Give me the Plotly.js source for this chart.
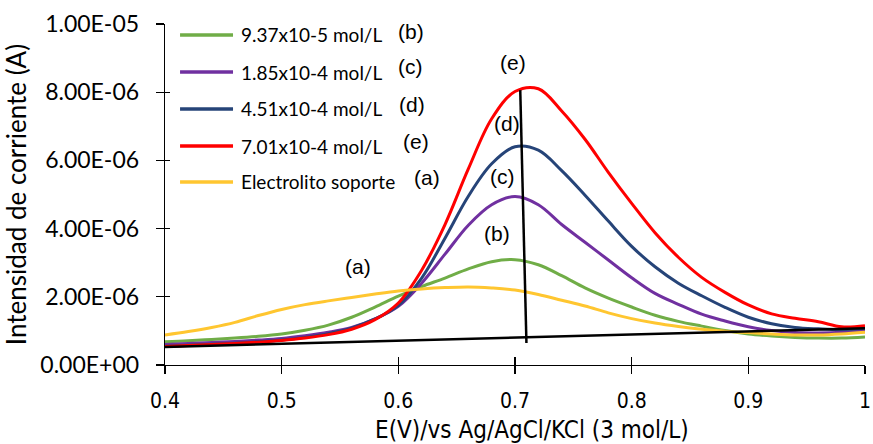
<!DOCTYPE html>
<html>
<head>
<meta charset="utf-8">
<script src="https://cdn.plot.ly/plotly-3.0.1.min.js"></script>
<style>html,body{margin:0;padding:0;background:#fff;}#chart{width:873px;height:444px;}</style>
</head>
<body>
<div id="chart"></div>
<script>
// Potential (V) grid
var potential = [0.40,0.42,0.44,0.46,0.48,0.50,0.52,0.54,0.56,0.58,0.60,0.62,0.64,0.66,0.68,0.70,0.72,0.74,0.76,0.78,0.80,0.82,0.84,0.86,0.88,0.90,0.92,0.94,0.96,0.98,1.00];
// Currents in microamps (x1e-6 A)
var currentB = [0.68,0.71,0.75,0.79,0.84,0.91,1.02,1.17,1.40,1.70,2.02,2.30,2.55,2.82,3.03,3.09,2.94,2.62,2.26,1.96,1.70,1.46,1.28,1.14,1.01,0.91,0.85,0.81,0.79,0.79,0.82];
var currentC = [0.60,0.63,0.66,0.69,0.73,0.78,0.86,0.96,1.10,1.35,1.72,2.40,3.25,4.10,4.70,4.94,4.70,4.12,3.60,3.08,2.56,2.10,1.78,1.49,1.29,1.12,1.01,0.95,0.94,0.96,1.02];
var currentD = [0.55,0.58,0.61,0.64,0.68,0.73,0.81,0.92,1.08,1.35,1.75,2.55,3.72,4.95,5.90,6.40,6.30,5.70,4.98,4.22,3.48,2.88,2.40,2.03,1.69,1.40,1.21,1.10,1.06,1.04,1.08];
var currentE = [0.54,0.57,0.60,0.63,0.67,0.72,0.79,0.89,1.05,1.33,1.82,2.78,4.12,5.75,7.22,8.02,8.10,7.45,6.62,5.65,4.74,3.88,3.16,2.57,2.13,1.76,1.50,1.37,1.27,1.12,1.15];
var currentA = [0.88,0.98,1.10,1.25,1.45,1.63,1.77,1.88,1.98,2.08,2.17,2.23,2.27,2.29,2.26,2.20,2.07,1.90,1.73,1.53,1.36,1.23,1.13,1.05,0.99,0.95,0.91,0.88,0.88,0.91,0.96];

var seriesNames = ["9.37x10-5 mol/L","1.85x10-4 mol/L","4.51x10-4 mol/L","7.01x10-4 mol/L","Electrolito soporte"];
var seriesTags = ["(b)","(c)","(d)","(e)","(a)"];
var seriesColors = ["#70AD47","#7030A0","#264478","#FF0000","#FFC630"];

// construction lines (baseline and peak line)
var baselineX = [0.40, 1.00];
var baselineY = [0.53e-6, 1.08e-6];
var peakLineX = [0.7045, 0.7098];
var peakLineY = [8.06e-6, 0.645e-6];

var xTicks = [0.4,0.5,0.6,0.7,0.8,0.9,1.0];
var xTickText = ["0.4","0.5","0.6","0.7","0.8","0.9","1"];
var yTicks = [0,2e-6,4e-6,6e-6,8e-6,1e-5];
var yTickText = ["0.00E+00","2.00E-06","4.00E-06","6.00E-06","8.00E-06","1.00E-05"];

function toAmps(arr){ return arr.map(function(v){ return v*1e-6; }); }
var allSeries = [currentB, currentC, currentD, currentE, currentA];

var traces = allSeries.map(function(s,i){
  return {x: potential, y: toAmps(s), type:'scatter', mode:'lines', name: seriesNames[i],
    line:{color: seriesColors[i], width:3, shape:'spline', smoothing:1}, showlegend:false, hoverinfo:'skip'};
});
traces.push({x: baselineX, y: baselineY, xaxis:'x2', yaxis:'y2', type:'scatter', mode:'lines', line:{color:'#000', width:2.5}, showlegend:false, hoverinfo:'skip'});
traces.push({x: peakLineX, y: peakLineY, xaxis:'x2', yaxis:'y2', type:'scatter', mode:'lines', line:{color:'#000', width:2.5}, showlegend:false, hoverinfo:'skip'});

var narrow = "Liberation Sans Narrow, Arial Narrow, DejaVu Sans Condensed, sans-serif";
var calib = "Lato, Carlito, Calibri, sans-serif";
var arial = "Liberation Sans, Arial, sans-serif";

// manual legend positions (data coords)
var legX0 = 0.4129, legX1 = 0.4583, legTextX = 0.4634;
var legRowY = [9.68e-6, 8.59e-6, 7.51e-6, 6.42e-6, 5.37e-6];
var legTagPos = [[0.611,9.79e-6],[0.610,8.74e-6],[0.612,7.65e-6],[0.615,6.54e-6],[0.6245,5.51e-6]];
var curveTagPos = [[0.6845,3.87e-6],[0.689,5.54e-6],[0.693,7.07e-6],[0.698,8.86e-6],[0.5654,2.90e-6]];

var shapes = [];
var annotations = [];
for (var i=0;i<5;i++){
  shapes.push({type:'line', xref:'x', yref:'y', x0:legX0, x1:legX1, y0:legRowY[i], y1:legRowY[i], line:{color:seriesColors[i], width:3.5}});
  annotations.push({xref:'x', yref:'y', x:legTextX, y:legRowY[i], text:seriesNames[i], showarrow:false, xanchor:'left', yanchor:'middle', font:{family:calib, size:19, color:'#000'}});
  annotations.push({xref:'x', yref:'y', x:legTagPos[i][0], y:legTagPos[i][1], text:seriesTags[i], showarrow:false, xanchor:'center', yanchor:'middle', font:{family:arial, size:21, color:'#000'}});
  annotations.push({xref:'x', yref:'y', x:curveTagPos[i][0], y:curveTagPos[i][1], text:seriesTags[i], showarrow:false, xanchor:'center', yanchor:'middle', font:{family:arial, size:21, color:'#000'}});
}
// x-axis title (placed as in the reference, slightly right of centre)
annotations.push({xref:'paper', yref:'paper', x:0.524, y:-0.19, xanchor:'center', yanchor:'middle', showarrow:false,
  text:'E(V)/vs Ag/AgCl/KCl (3 mol/L)', font:{family:narrow, size:24, color:'#000'}});

var layout = {
  width: 873, height: 444,
  margin: {l:165, r:8, t:24, b:79},
  paper_bgcolor:'#fff', plot_bgcolor:'#fff',
  showlegend:false,
  xaxis: {range:[0.4,1.0], tickvals:xTicks, ticktext:xTickText, ticks:'outside', ticklen:8, tickwidth:1.3, tickcolor:'#000',
    showline:true, linecolor:'#000', linewidth:1.3, showgrid:false, zeroline:false, ticklabelstandoff:8,
    tickfont:{family:narrow, size:21, color:'#000'}},
  yaxis: {range:[0,1e-5], tickvals:yTicks, ticktext:yTickText, ticks:'outside', ticklen:8, tickwidth:1.3, tickcolor:'#000',
    showline:true, linecolor:'#000', linewidth:1.3, showgrid:false, zeroline:false, ticklabelstandoff:12,
    tickfont:{family:calib, size:23, color:'#000'},
    title:{text:'Intensidad de corriente (A)', font:{family:calib, size:26, color:'#000'}, standoff:6}},
  xaxis2: {overlaying:'x', anchor:'y', range:[0.4,1.0], tickvals:xTicks, ticks:'inside', ticklen:8, tickwidth:1.3, tickcolor:'#000',
    showticklabels:false, showline:false, showgrid:false, zeroline:false},
  yaxis2: {overlaying:'y', anchor:'x', range:[0,1e-5], tickvals:yTicks, ticks:'inside', ticklen:5, tickwidth:1.3, tickcolor:'#000',
    showticklabels:false, showline:false, showgrid:false, zeroline:false},
  shapes: shapes,
  annotations: annotations
};

Plotly.newPlot('chart', traces, layout, {staticPlot:true, displayModeBar:false});
</script>
</body>
</html>
